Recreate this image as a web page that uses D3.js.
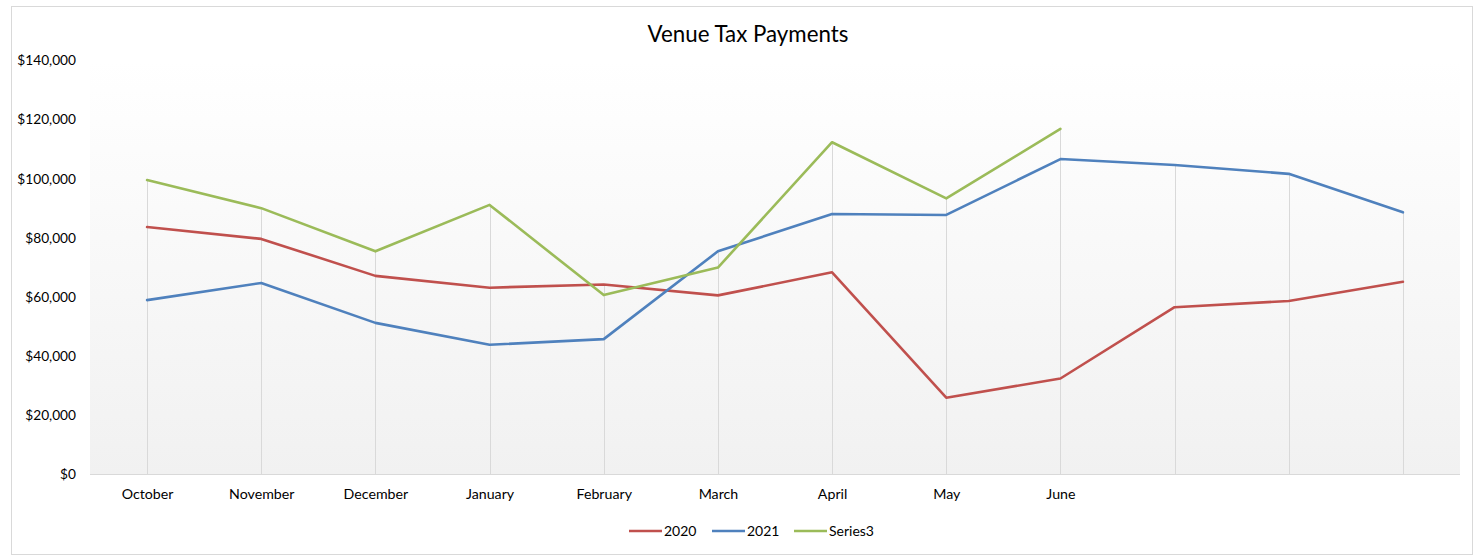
<!DOCTYPE html>
<html>
<head>
<meta charset="utf-8">
<script src="https://cdn.jsdelivr.net/npm/d3@7"></script>
<style>
  html, body { margin: 0; padding: 0; background: #fff; }
  svg { display: block; }
  text { font-family: Lato, "Open Sans", sans-serif; fill: #000; }
</style>
</head>
<body>
<svg id="chart" width="1475" height="557"></svg>
<script>
// ---- data ----
const categories = ["October","November","December","January","February","March","April","May","June","","",""];
const categoryKeys = ["c1","c2","c3","c4","c5","c6","c7","c8","c9","c10","c11","c12"];
const series2020 = [83500, 79500, 67000, 63000, 64100, 60400, 68200, 25800, 32300, 56400, 58500, 65000];
const series2021 = [58800, 64600, 51100, 43700, 45600, 75300, 87900, 87600, 106500, 104500, 101500, 88500];
const series3    = [99400, 89900, 75300, 91000, 60500, 69800, 112200, 93200, 116700, null, null, null];
const seriesNames = ["2020", "2021", "Series3"];
const seriesColors = ["#C0504D", "#4F81BD", "#9BBB59"];
const yTicks = [0, 20000, 40000, 60000, 80000, 100000, 120000, 140000];

const allSeries = [series2020, series2021, series3];

const svg = d3.select("#chart");
const plot = { left: 90, right: 1460, top: 60, bottom: 474 };

// outer border
svg.append("rect")
  .attr("x", 11.5).attr("y", 6.5)
  .attr("width", 1461).attr("height", 548)
  .attr("fill", "#fff").attr("stroke", "#d9d9d9").attr("stroke-width", 1);

// gradient
const defs = svg.append("defs");
const grad = defs.append("linearGradient").attr("id", "bg")
  .attr("x1", 0).attr("y1", 0).attr("x2", 0).attr("y2", 1);
grad.append("stop").attr("offset", "0%").attr("stop-color", "#ffffff");
grad.append("stop").attr("offset", "100%").attr("stop-color", "#f1f1f1");

svg.append("rect")
  .attr("x", plot.left).attr("y", plot.top)
  .attr("width", plot.right - plot.left).attr("height", plot.bottom - plot.top)
  .attr("fill", "url(#bg)");

const x = d3.scalePoint().domain(categoryKeys).range([plot.left, plot.right]).padding(0.5);
const y = d3.scaleLinear().domain([0, 140000]).range([plot.bottom, plot.top]);

// drop lines (from highest point to axis)
const maxes = categoryKeys.map((k, i) => d3.max(allSeries, s => s[i]));
svg.append("g").selectAll("line").data(categoryKeys).join("line")
  .attr("x1", d => Math.round(x(d)) + 0.5).attr("x2", d => Math.round(x(d)) + 0.5)
  .attr("y1", plot.bottom)
  .attr("y2", (d, i) => y(maxes[i]))
  .attr("stroke", "#d9d9d9").attr("stroke-width", 1);

// x axis line
svg.append("line")
  .attr("x1", plot.left).attr("x2", plot.right)
  .attr("y1", plot.bottom + 0.5).attr("y2", plot.bottom + 0.5)
  .attr("stroke", "#d9d9d9").attr("stroke-width", 1);

// y axis labels
const yAxis = d3.axisLeft(y).tickValues(yTicks).tickSize(0).tickPadding(0)
  .tickFormat(d => "$" + d3.format(",")(d));
const yg = svg.append("g").attr("transform", `translate(76,0)`).call(yAxis);
yg.select(".domain").remove();
yg.selectAll("text").style("font-family", "Lato, 'Open Sans', sans-serif")
  .style("font-size", "13.7px").attr("fill", "#000").attr("dy", "0.35em");

// x axis labels
const xAxis = d3.axisBottom(x).tickSize(0).tickPadding(0)
  .tickFormat((d, i) => categories[i]);
const xg = svg.append("g").attr("transform", `translate(0,${plot.bottom})`).call(xAxis);
xg.select(".domain").remove();
xg.selectAll("text").style("font-family", "Lato, 'Open Sans', sans-serif")
  .style("font-size", "14.2px").attr("fill", "#000").attr("y", 20).attr("dy", "0.35em");

// lines
const line = d3.line()
  .defined(d => d.v !== null)
  .x(d => x(d.k)).y(d => y(d.v));
allSeries.forEach((s, si) => {
  svg.append("path")
    .datum(s.map((v, i) => ({ k: categoryKeys[i], v })))
    .attr("d", line)
    .attr("fill", "none")
    .attr("stroke", seriesColors[si])
    .attr("stroke-width", 2.6)
    .attr("stroke-linejoin", "round")
    .attr("stroke-linecap", "round");
});

// title
svg.append("text")
  .attr("x", 748).attr("y", 34)
  .attr("text-anchor", "middle").attr("dy", "0.35em")
  .style("font-size", "22.3px")
  .text("Venue Tax Payments");

// legend
const legendX = [629, 712, 794];
const lg = svg.append("g");
seriesNames.forEach((n, i) => {
  lg.append("line")
    .attr("x1", legendX[i]).attr("x2", legendX[i] + 33)
    .attr("y1", 531).attr("y2", 531)
    .attr("stroke", seriesColors[i]).attr("stroke-width", 2.6);
  lg.append("text")
    .attr("x", legendX[i] + 35).attr("y", 531).attr("dy", "0.35em")
    .style("font-size", "14px")
    .text(n);
});
</script>
</body>
</html>
